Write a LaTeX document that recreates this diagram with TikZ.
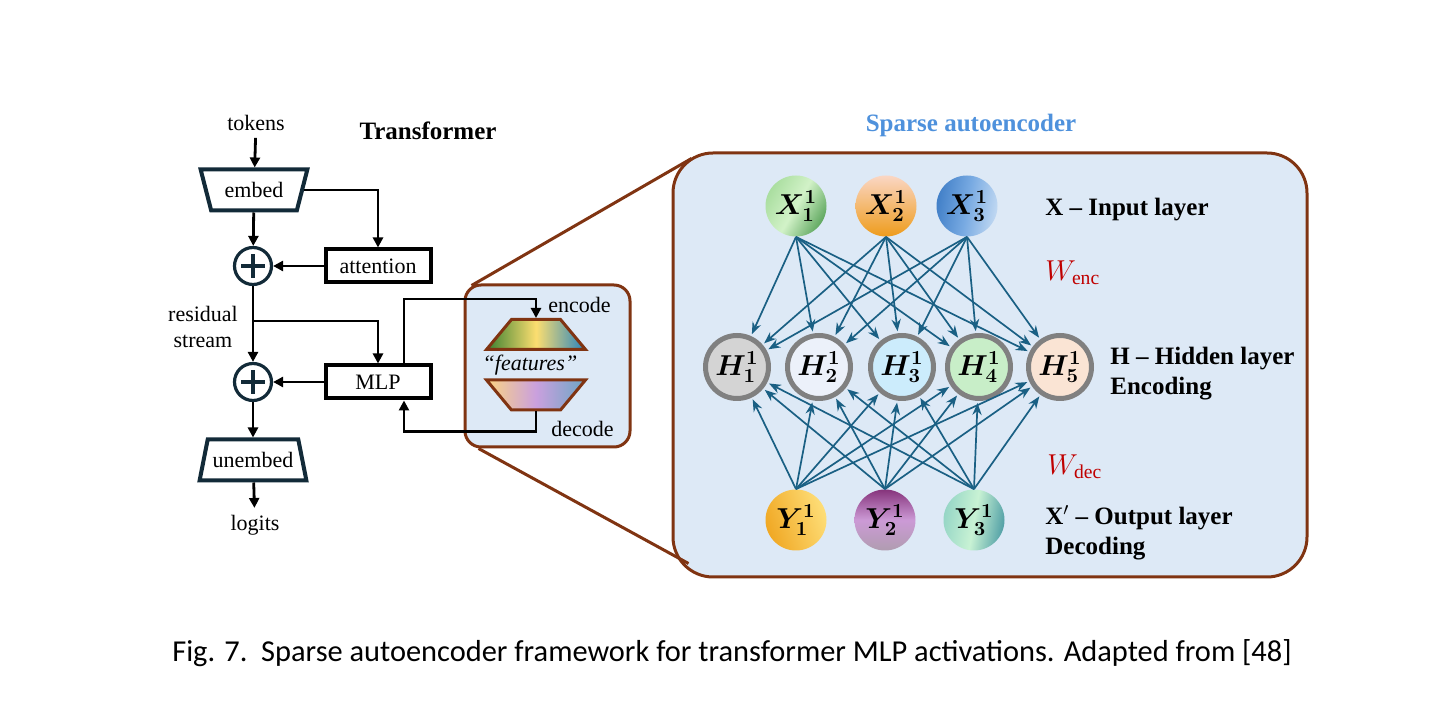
\documentclass[tikz,border=0pt]{standalone}
\usepackage{fontspec}
\setmainfont{Liberation Serif}
\newfontfamily\capfont{Carlito}
\usepackage{bm}
\usepackage{tikz}
\usetikzlibrary{arrows.meta,calc,positioning,shapes.geometric}
\definecolor{saefill}{RGB}{221,233,246}
\definecolor{saebrown}{RGB}{128,52,18}
\definecolor{saenavy}{RGB}{18,42,56}
\definecolor{saewire}{RGB}{26,96,132}
\definecolor{saetitle}{RGB}{78,145,220}
\definecolor{saered}{RGB}{192,0,0}
\definecolor{saegray}{RGB}{128,128,128}
% gradients
\definecolor{encA}{RGB}{58,128,48}
\definecolor{encB}{RGB}{252,222,112}
\definecolor{encC}{RGB}{38,132,192}
\definecolor{decA}{RGB}{252,212,130}
\definecolor{decB}{RGB}{202,160,222}
\definecolor{decC}{RGB}{108,166,196}
\definecolor{xoneA}{RGB}{170,222,160}
\definecolor{xoneB}{RGB}{210,242,200}
\definecolor{xoneC}{RGB}{96,168,96}
\definecolor{xtwoA}{RGB}{250,214,196}
\definecolor{xtwoC}{RGB}{238,156,28}
\definecolor{xthrA}{RGB}{66,128,200}
\definecolor{xthrB}{RGB}{120,170,226}
\definecolor{xthrC}{RGB}{192,216,242}
\definecolor{yoneA}{RGB}{240,168,36}
\definecolor{yoneC}{RGB}{254,222,120}
\definecolor{ytwoA}{RGB}{134,52,124}
\definecolor{ytwoB}{RGB}{204,154,214}
\definecolor{ytwoC}{RGB}{176,156,176}
\definecolor{ythrA}{RGB}{150,214,198}
\definecolor{ythrB}{RGB}{200,242,212}
\definecolor{ythrC}{RGB}{82,160,166}
\definecolor{hone}{RGB}{212,212,212}
\definecolor{htwo}{RGB}{236,241,250}
\definecolor{hthr}{RGB}{204,236,252}
\definecolor{hfou}{RGB}{200,238,200}
\definecolor{hfiv}{RGB}{250,228,212}

\begin{document}
\begin{tikzpicture}[x=0.5pt, y=-0.5pt,
  every node/.style={font=\fontsize{11}{13}\selectfont},
  trap/.style={trapezium, trapezium stretches=true, trapezium angle=65, draw=saenavy, line width=2pt,
    minimum width=53.5pt, minimum height=20.5pt, inner sep=0pt},
  blk/.style={draw, line width=2pt, minimum width=52.5pt, minimum height=16.5pt, inner sep=0pt},
  sumnode/.style={circle, draw=saenavy, line width=1.6pt, minimum size=18.5pt, inner sep=0pt,
    path picture={\draw[line width=2.1pt]
      ([xshift=-6pt]path picture bounding box.center) -- ([xshift=6pt]path picture bounding box.center)
      ([yshift=-6pt]path picture bounding box.center) -- ([yshift=6pt]path picture bounding box.center);}},
  flow/.style={-{Triangle[length=5pt,width=5pt]}, line width=1.4pt},
  coder/.style={trapezium, trapezium stretches=true, trapezium angle=63, draw=saebrown, line width=1.5pt,
    minimum width=49.5pt, minimum height=15pt, inner sep=2pt},
  inball/.style={circle, minimum size=30.5pt, inner sep=0pt, font=\fontsize{14}{16}\selectfont},
  hidball/.style={circle, draw=saegray, line width=2.5pt, minimum size=31.5pt, inner sep=0pt, font=\fontsize{14}{16}\selectfont},
  wire/.style={draw=saewire, line width=0.85pt, -{Stealth[length=6pt,width=4.6pt]}, shorten >=1pt},
  head/.style={font=\fontsize{12.5}{15}\selectfont\bfseries, inner sep=0pt},
  layer/.style={font=\fontsize{12.5}{15}\selectfont\bfseries, anchor=west, align=left, inner sep=0pt},
  weight/.style={font=\fontsize{14}{16}\selectfont, text=saered, anchor=west, inner sep=0pt}
]
  \useasboundingbox (0,0) rectangle (1448,716);

  % transformer column
  \node (tokens) at (256,123) {tokens};
  \node[head] (ttitle) at (428,131) {Transformer};
  \node[trap, shape border rotate=180] (embed) at (254,190) {embed};
  \node[sumnode] (sum1) at (253,266) {};
  \node[blk] (attn) at (378,266) {attention};
  \node[sumnode] (sum2) at (253,382) {};
  \node[blk] (mlp) at (378,382) {MLP};
  \node[trap] (unembed) at (253,460) {unembed};
  \node (logits) at (255,525) {logits};
  \node[align=center] (resid) at (203,327) {residual\\stream};
  \coordinate (branch) at (253,321);

  \draw[flow] (tokens) -- (embed);
  \draw[flow] (embed) -- (sum1);
  \draw[flow] (embed.east) -| (attn.north);
  \draw[flow] (attn) -- (sum1);
  \draw[flow] (sum1) -- (sum2);
  \draw[flow] (branch) -| (mlp.north);
  \draw[flow] (mlp) -- (sum2);
  \draw[flow] (sum2) -- (unembed);
  \draw[flow] (unembed) -- (logits);

  % zoomed sae
  \node[draw=saebrown, line width=1.5pt, fill=saefill, rounded corners=20pt,
    minimum width=317pt, minimum height=212pt] (saebox) at (990,365) {};
  \node[draw=saebrown, line width=1.5pt, fill=saefill, rounded corners=8pt,
    minimum width=82.5pt, minimum height=81pt] (featbox) at (547.5,366) {};
  \draw[saebrown, line width=1.5pt] ([shift={(8,2)}]featbox.north west) -- ([shift={(20,7)}]saebox.north west);
  \draw[saebrown, line width=1.5pt] ([shift={(15,0)}]featbox.south west) -- ([shift={(17,-15)}]saebox.south west);

  % features box
  \node[coder, left color=encA, right color=encC, middle color=encB] (enc) at (536,334.5) {};
  \node[coder, shape border rotate=180, left color=decA, right color=decC, middle color=decB] (dec) at (536,395) {};
  \node (feat) at (530,365) {\textit{``features''}};
  \node[anchor=west, inner sep=0pt] (enclbl) at (548,305) {encode};
  \node[anchor=west, inner sep=0pt] (declbl) at (551,429) {decode};
  \draw[flow] ([xshift=13pt]mlp.north) |- ([yshift=9.5pt]enc.north) -- (enc.north);
  \draw[flow] (dec.south) -- ([yshift=-10pt]dec.south) -| ([xshift=13pt]mlp.south);

  \node[font=\fontsize{12.5}{15}\selectfont\bfseries, text=saetitle] (stitle) at (971,125) {Sparse autoencoder};

  % input layer
  \node[inball, left color=xoneA, right color=xoneC, middle color=xoneB, shading angle=60] (in1) at (796,206) {$\bm{X_1^1}$};
  \node[inball, top color=xtwoA, bottom color=xtwoC] (in2) at (886,206) {$\bm{X_2^1}$};
  \node[inball, left color=xthrA, right color=xthrC, middle color=xthrB, shading angle=80] (in3) at (967,206) {$\bm{X_3^1}$};

  % hidden layer
  \node[hidball, fill=hone] (hid1) at (737,367) {$\bm{H_1^1}$};
  \node[hidball, fill=htwo] (hid2) at (819,367) {$\bm{H_2^1}$};
  \node[hidball, fill=hthr] (hid3) at (902,367) {$\bm{H_3^1}$};
  \node[hidball, fill=hfou] (hid4) at (979,367) {$\bm{H_4^1}$};
  \node[hidball, fill=hfiv] (hid5) at (1060,367) {$\bm{H_5^1}$};

  % output layer
  \node[inball, left color=yoneA, right color=yoneC, shading angle=110] (out1) at (796,520) {$\bm{Y_1^1}$};
  \node[inball, top color=ytwoA, bottom color=ytwoC, middle color=ytwoB] (out2) at (885,520) {$\bm{Y_2^1}$};
  \node[inball, left color=ythrA, right color=ythrC, middle color=ythrB, shading angle=80] (out3) at (974,520) {$\bm{Y_3^1}$};

  \foreach \i in {1,2,3}{
    \foreach \j in {1,...,5}{
      \draw[wire] (in\i.south) -- (hid\j);
      \draw[wire] (out\i.north) -- (hid\j);
    }
  }

  % layer labels
  \node[layer] (inlbl) at (1045,210) {X -- Input layer};
  \node[weight] (wenc) at (1045,273) {$W_{\mathrm{enc}}$};
  \node[layer] (hidlbl) at (1110,374) {H -- Hidden layer\\Encoding};
  \node[weight] (wdec) at (1047,467) {$W_{\mathrm{dec}}$};
  \node[layer] (outlbl) at (1045,533) {X$'$ -- Output layer\\Decoding};

  % caption
  \node[font=\capfont\fontsize{15.2}{18}\selectfont] (caption) at (732,653) {Fig. 7.\ \ Sparse autoencoder framework for transformer MLP activations. Adapted from [48]};
\end{tikzpicture}
\end{document}
